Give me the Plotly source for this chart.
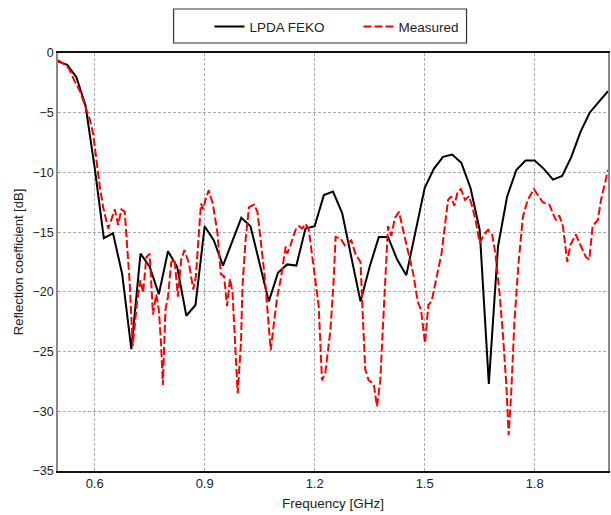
import plotly.graph_objects as go

# LPDA FEKO simulation (GHz, dB)
feko_freq = [0.500, 0.525, 0.550, 0.575, 0.600, 0.625, 0.650, 0.675, 0.700, 0.725,
             0.750, 0.775, 0.800, 0.825, 0.850, 0.875, 0.900, 0.925, 0.950, 0.975,
             1.000, 1.025, 1.050, 1.075, 1.100, 1.125, 1.150, 1.175, 1.200, 1.225,
             1.250, 1.275, 1.300, 1.325, 1.350, 1.375, 1.400, 1.425, 1.450, 1.475,
             1.500, 1.525, 1.550, 1.575, 1.600, 1.625, 1.650, 1.675, 1.700, 1.725,
             1.750, 1.775, 1.800, 1.825, 1.850, 1.875, 1.900, 1.925, 1.950, 1.975, 2.000]
feko_db = [-0.7, -1.0, -2.0, -4.4, -9.6, -15.5, -15.1, -18.5, -24.8, -16.8,
           -17.9, -20.2, -16.6, -17.9, -22.0, -21.1, -14.5, -15.7, -17.8, -15.8,
           -13.8, -14.5, -17.6, -20.8, -18.4, -17.7, -17.8, -14.7, -14.5, -11.9,
           -11.6, -13.4, -17.1, -20.8, -17.9, -15.4, -15.4, -17.3, -18.6, -14.8,
           -11.3, -9.7, -8.7, -8.5, -9.2, -11.3, -14.8, -27.7, -16.2, -12.0,
           -9.8, -9.0, -9.0, -9.7, -10.6, -10.3, -8.7, -6.6, -5.0, -4.1, -3.2]

# Measured (GHz, dB)
meas_freq = [0.500, 0.515, 0.530, 0.546, 0.560, 0.573, 0.587, 0.596, 0.605, 0.614,
             0.623, 0.637, 0.646, 0.655, 0.664, 0.673, 0.682, 0.695, 0.704, 0.715,
             0.725, 0.732, 0.741, 0.750, 0.759, 0.768, 0.775, 0.781, 0.786, 0.793,
             0.800, 0.809, 0.818, 0.827, 0.836, 0.845, 0.857, 0.869, 0.876, 0.884,
             0.890, 0.896, 0.902, 0.911, 0.922, 0.935, 0.944, 0.953, 0.961, 0.969,
             0.976, 0.990, 0.999, 1.003, 1.012, 1.021, 1.035, 1.044, 1.063, 1.071,
             1.080, 1.089, 1.098, 1.107, 1.121, 1.125, 1.134, 1.148, 1.157, 1.166,
             1.175, 1.184, 1.198, 1.211, 1.220, 1.229, 1.243, 1.252, 1.257, 1.270,
             1.282, 1.300, 1.311, 1.325, 1.331, 1.338, 1.347, 1.361, 1.370, 1.379,
             1.388, 1.395, 1.400, 1.409, 1.419, 1.430, 1.442, 1.456, 1.469, 1.481,
             1.490, 1.501, 1.510, 1.519, 1.533, 1.546, 1.555, 1.564, 1.572, 1.581,
             1.590, 1.599, 1.610, 1.621, 1.630, 1.639, 1.650, 1.662, 1.673, 1.684,
             1.693, 1.705, 1.714, 1.723, 1.729, 1.736, 1.745, 1.756, 1.768, 1.781,
             1.798, 1.809, 1.822, 1.831, 1.840, 1.852, 1.858, 1.867, 1.877, 1.889,
             1.897, 1.912, 1.926, 1.940, 1.949, 1.958, 1.972, 1.981, 2.000]
meas_db = [-0.6, -0.9, -1.3, -2.4, -3.2, -4.3, -5.6, -6.8, -9.2, -11.2,
           -12.9, -14.7, -13.9, -13.1, -14.4, -13.1, -13.3, -19.0, -24.5, -21.0,
           -19.0, -20.1, -17.1, -16.8, -21.9, -20.2, -21.5, -24.3, -27.8, -21.5,
           -20.4, -17.5, -17.3, -20.4, -17.3, -16.5, -17.6, -19.8, -18.7, -15.4,
           -12.6, -13.1, -12.3, -11.5, -12.6, -15.1, -18.5, -18.7, -21.2, -18.9,
           -20.1, -28.5, -24.3, -19.6, -15.5, -12.9, -12.7, -13.3, -18.5, -21.4,
           -24.9, -22.6, -20.4, -19.0, -16.2, -16.8, -16.1, -14.8, -14.5, -14.7,
           -14.3, -14.8, -17.9, -21.2, -27.4, -26.8, -23.2, -19.0, -15.4, -15.5,
           -16.1, -15.7, -16.8, -17.5, -21.8, -26.5, -27.4, -27.7, -29.6, -27.4,
           -21.8, -17.3, -14.5, -15.3, -13.8, -13.3, -14.8, -16.8, -18.5, -20.8,
           -21.5, -24.3, -21.1, -20.8, -18.7, -16.8, -14.5, -12.3, -12.0, -12.8,
           -11.6, -11.4, -12.3, -12.0, -12.9, -14.0, -15.9, -15.2, -14.8, -15.2,
           -16.8, -20.4, -23.8, -27.9, -32.0, -28.5, -22.4, -17.6, -13.7, -12.3,
           -11.4, -11.9, -12.5, -12.6, -12.7, -13.6, -14.0, -13.6, -14.5, -17.5,
           -16.1, -15.2, -16.1, -17.1, -17.3, -14.5, -14.0, -12.3, -9.8]

x_ticks = [0.6, 0.9, 1.2, 1.5, 1.8]
x_tick_labels = ["0.6", "0.9", "1.2", "1.5", "1.8"]
y_ticks = [0, -5, -10, -15, -20, -25, -30, -35]

fig = go.Figure()
fig.add_trace(go.Scatter(x=feko_freq, y=feko_db, mode="lines", name="LPDA FEKO",
                         line=dict(color="black", width=2)))
fig.add_trace(go.Scatter(x=meas_freq, y=meas_db, mode="lines", name="Measured",
                         line=dict(color="#ff0000", width=2, dash="8px,3px")))

font_family = "Liberation Sans, Arial, sans-serif"
fig.update_layout(
    width=611, height=515,
    margin=dict(l=58, r=1, t=53, b=44),
    paper_bgcolor="white", plot_bgcolor="white",
    font=dict(family=font_family, size=12.5, color="#222"),
    showlegend=True,
    legend=dict(orientation="h", x=0.2754, y=1.063, xanchor="left", yanchor="middle",
                borderwidth=0, bgcolor="rgba(0,0,0,0)",
                font=dict(size=13.5, color="#222"),
                entrywidth=104, entrywidthmode="pixels"),
    shapes=[dict(type="rect", xref="paper", yref="paper",
                 x0=0.2101, x1=0.7428, y0=1.0239, y1=1.1053,
                 line=dict(color="#333", width=1.2), fillcolor="rgba(0,0,0,0)",
                 layer="above")],
    xaxis=dict(range=[0.5, 2.0], tickvals=x_ticks, ticktext=x_tick_labels,
               showgrid=True, gridcolor="#aaaaaa", griddash="3px,2px", gridwidth=1,
               showline=True, linecolor="#111", linewidth=1.5, mirror=True,
               ticks="", zeroline=False,
               title=dict(text="Frequency [GHz]", standoff=8, font=dict(size=13.5)),
               tickfont=dict(size=13)),
    yaxis=dict(range=[-35, 0], tickvals=y_ticks,
               showgrid=True, gridcolor="#aaaaaa", griddash="3px,2px", gridwidth=1,
               showline=True, linecolor="#888", linewidth=1.5, mirror=True,
               ticks="", zeroline=False,
               title=dict(text="Reflection coefficient [dB]", standoff=6, font=dict(size=13)),
               tickfont=dict(size=12.5)),
)

fig.write_html("out.html")
